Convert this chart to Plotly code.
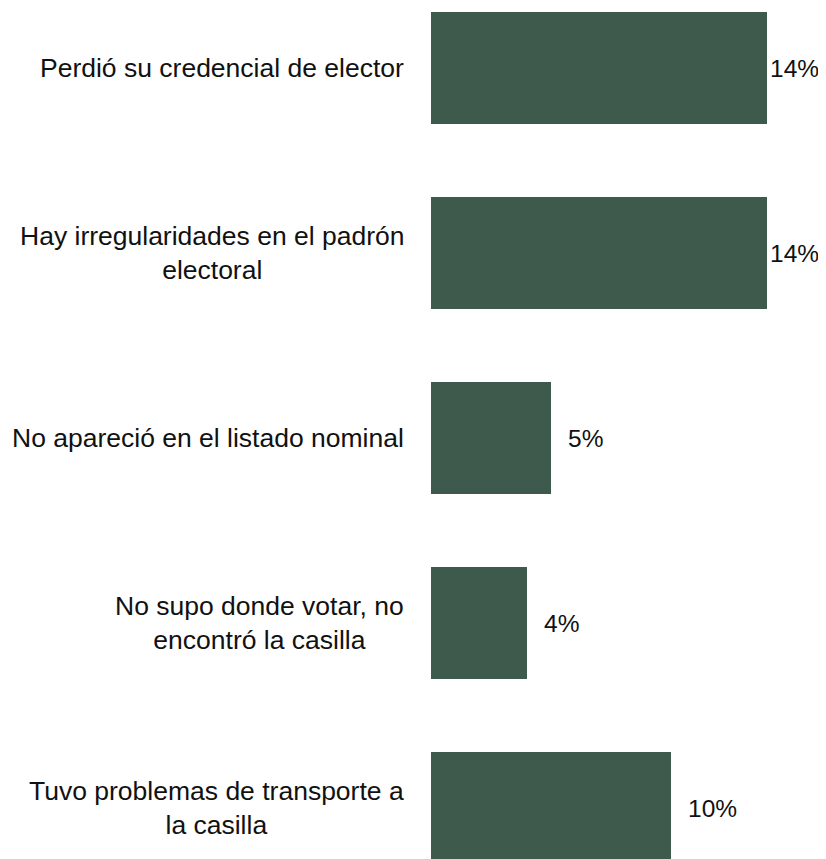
import plotly.graph_objects as go

categories = [
    "Perdió su credencial de elector",
    "Hay irregularidades en el padrón<br>electoral",
    "No apareció en el listado nominal",
    "No supo donde votar, no<br>encontró la casilla",
    "Tuvo problemas de transporte a<br>la casilla",
]
values = [14, 14, 5, 4, 10]
value_labels = ["14%", "14%", "5%", "4%", "10%"]

FONT = "Liberation Sans, Arial, sans-serif"
FS = 26.5
FS_VAL = 24.5
BAR_COLOR = "#3e5a4c"
TEXT_COLOR = "#111111"
X_MAX = 16.458
PX_PER_UNIT = 24.0

fig = go.Figure()
fig.add_trace(go.Bar(
    y=list(range(len(categories))),
    x=values,
    orientation="h",
    width=0.605,
    marker=dict(color=BAR_COLOR, line=dict(width=0)),
    hoverinfo="skip",
))

annotations = [
    dict(
        x=0, xref="paper", y=i, yref="y",
        text=cat, showarrow=False,
        xanchor="right", yanchor="middle", align="center",
        xshift=-25,
        font=dict(family=FONT, size=FS, color=TEXT_COLOR),
    )
    for i, cat in enumerate(categories)
]

# value labels: a gap after the bar, reduced when the label would leave the chart
for i, (v, lab) in enumerate(zip(values, value_labels)):
    room = (X_MAX - v) * PX_PER_UNIT
    est_w = 0.67 * FS_VAL * len(lab)
    gap = 15 if room - 15 - est_w > 0 else 1
    annotations.append(dict(
        x=v, xref="x", y=i, yref="y",
        text=lab, showarrow=False,
        xanchor="left", yanchor="middle",
        xshift=gap,
        font=dict(family=FONT, size=FS_VAL, color=TEXT_COLOR),
    ))

fig.update_layout(
    width=818, height=851,
    margin=dict(l=423, r=0, t=0, b=0),
    plot_bgcolor="white", paper_bgcolor="white",
    showlegend=False,
    xaxis=dict(range=[0, X_MAX], visible=False, fixedrange=True),
    yaxis=dict(range=[4.2757, -0.3243], visible=False, fixedrange=True),
    annotations=annotations,
)

fig.write_html("out.html")
